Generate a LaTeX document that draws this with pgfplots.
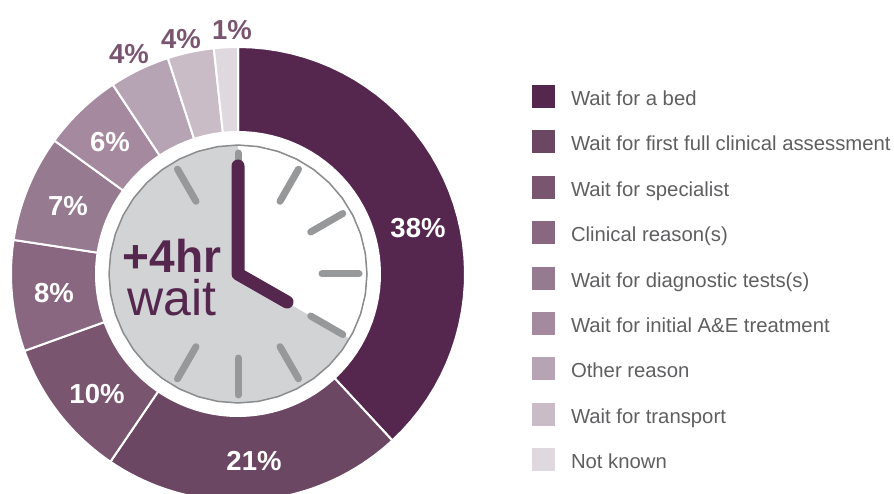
\documentclass[border=0pt]{standalone}
\usepackage{pgfplots}
\pgfplotsset{compat=1.18}
\usepackage{fontspec}
\setmainfont{Liberation Sans}
\definecolor{c1}{HTML}{55274F}
\definecolor{c2}{HTML}{6C4763}
\definecolor{c3}{HTML}{7A5570}
\definecolor{c4}{HTML}{8A6780}
\definecolor{c5}{HTML}{967A90}
\definecolor{c6}{HTML}{A5899F}
\definecolor{c7}{HTML}{B6A3B3}
\definecolor{c8}{HTML}{C9BCC6}
\definecolor{c9}{HTML}{DFD8DE}
\definecolor{lab}{HTML}{7A5570}
\definecolor{txt}{HTML}{5F5F61}
\definecolor{disk}{HTML}{D1D3D4}
\definecolor{ring}{HTML}{8A8C8E}
\definecolor{tick}{HTML}{97989A}
% ring sector: start %, end %, inner radius, outer radius (pixels), plot options
\newcommand\sector[5]{%
  \gdef\pts{}%
  \foreach \i in {0,...,40}{%
    \pgfmathsetmacro\th{(#1+(#2-#1)*\i/40)*3.6}%
    \pgfmathsetmacro\xx{238+#4*sin(\th)}%
    \pgfmathsetmacro\yy{219+#4*cos(\th)}%
    \xdef\pts{\pts (\xx,\yy)}%
  }%
  \foreach \i in {0,...,40}{%
    \pgfmathsetmacro\th{(#2-(#2-#1)*\i/40)*3.6}%
    \pgfmathsetmacro\xx{238+#3*sin(\th)}%
    \pgfmathsetmacro\yy{219+#3*cos(\th)}%
    \xdef\pts{\pts (\xx,\yy)}%
  }%
  \edef\tmp{\noexpand\addplot[\unexpanded{#5}] coordinates {\pts} --cycle;}%
  \tmp
}
\begin{document}
\begin{tikzpicture}
\begin{axis}[
  name=main,
  at={(0pt,0pt)},anchor=south west,
  x=1pt,y=1pt,scale only axis,
  width=894pt,height=493pt,
  xmin=0,xmax=894,ymin=0,ymax=493,
  axis lines=none,
  clip=true,
  legend cell align=left,
  legend style={
    at={(axis cs:532,408)},anchor=north west,draw=none,fill=none,
    inner sep=0pt,outer sep=0pt,
    font=\fontsize{20.3}{22}\selectfont\color{txt},
    row sep=17.9pt,
    nodes={inner sep=0pt,outer sep=0pt,text height=16pt,text depth=7pt,anchor=base west},
    /tikz/column 1/.style={column sep=16pt},
  },
  legend image code/.code={\fill[#1,draw=none] (0pt,-2.5pt) rectangle (23pt,20.5pt);},
]
\sector{0}{38.1}{142}{227}{fill=c1,draw=white,line width=2pt}\addlegendentry{Wait for a bed}
\sector{38.1}{59.5}{142}{227}{fill=c2,draw=white,line width=2pt}\addlegendentry{Wait for first full clinical assessment}
\sector{59.5}{69.5}{142}{227}{fill=c3,draw=white,line width=2pt}\addlegendentry{Wait for specialist}
\sector{69.5}{77.4}{142}{227}{fill=c4,draw=white,line width=2pt}\addlegendentry{Clinical reason(s)}
\sector{77.4}{85.0}{142}{227}{fill=c5,draw=white,line width=2pt}\addlegendentry{Wait for diagnostic tests(s)}
\sector{85.0}{90.7}{142}{227}{fill=c6,draw=white,line width=2pt}\addlegendentry{Wait for initial A\&E treatment}
\sector{90.7}{95.0}{142}{227}{fill=c7,draw=white,line width=2pt}\addlegendentry{Other reason}
\sector{95.0}{98.3}{142}{227}{fill=c8,draw=white,line width=2pt}\addlegendentry{Wait for transport}
\sector{98.3}{100}{142}{227}{fill=c9,draw=white,line width=2pt}\addlegendentry{Not known}
% clock
\sector{0}{100}{0}{129}{fill=disk,draw=none,forget plot}
\sector{0}{33.333}{0}{128}{fill=white,draw=none,forget plot}
\sector{0}{100}{129}{129}{draw=ring,line width=1.5pt,fill=none,forget plot}
\foreach \a/\b/\c/\d in {238/303/238/340,280/291.7/298.5/323.8,310.7/261/342.8/279.5,322/219/359/219,310.7/177/342.8/158.5,280/146.3/298.5/114.2,238/135/238/98,196/146.3/177.5/114.2,196/291.7/177.5/323.8}{
  \edef\tmp{\noexpand\addplot[color=tick,line width=7pt,line cap=round,forget plot] coordinates {(\a,\b) (\c,\d)};}\tmp
}
\addplot[color=c1,line width=13pt,line cap=round,line join=round,forget plot] coordinates {(238,327) (238,219) (287,191)};
% labels
\begin{scope}[font=\fontsize{27.5}{29}\selectfont\bfseries]
\node[white] at (axis cs:418,265) {38\%};
\node[white] at (axis cs:254,32) {21\%};
\node[white] at (axis cs:97,99) {10\%};
\node[white] at (axis cs:54,200) {8\%};
\node[white] at (axis cs:68,287) {7\%};
\node[white] at (axis cs:110,351) {6\%};
\node[lab] at (axis cs:129,439) {4\%};
\node[lab] at (axis cs:181,454) {4\%};
\node[lab] at (axis cs:232,463) {1\%};
\end{scope}
\node[c1,anchor=base,inner sep=0pt,font=\fontsize{46}{48}\selectfont\bfseries] at (axis cs:172,220) {+4hr};
\node[c1,anchor=base,inner sep=0pt,font=\fontsize{50}{52}\selectfont] at (axis cs:172,177) {wait};
\end{axis}
\path (0pt,0pt) rectangle (894pt,493pt);
\end{tikzpicture}
\end{document}
